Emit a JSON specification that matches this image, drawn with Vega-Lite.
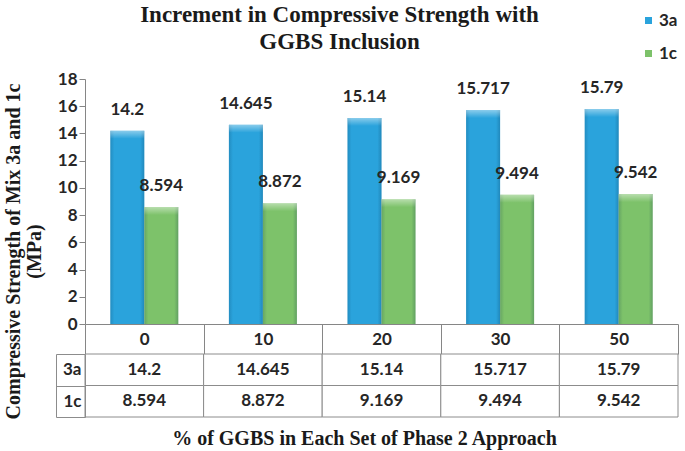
{
  "$schema": "https://vega.github.io/schema/vega-lite/v6.json",
  "background": "white",
  "padding": {"left": 2, "top": 4, "right": 5, "bottom": 2},
  "spacing": 30,
  "bounds": "flush",
  "config": {
    "view": {"stroke": null},
    "font": "Lato",
    "axis": {
      "labelFont": "Lato", "labelFontWeight": "bold", "labelFontSize": 17, "labelColor": "#262626",
      "domainColor": "#868686", "tickColor": "#868686",
      "titleFont": "Liberation Serif", "titleFontWeight": "bold", "titleFontSize": 20, "titleColor": "#1a1a1a"
    }
  },
  "data": {"values": [
    {"ggbs": "0", "series": "3a", "value": 14.2},
    {"ggbs": "0", "series": "1c", "value": 8.594},
    {"ggbs": "10", "series": "3a", "value": 14.645},
    {"ggbs": "10", "series": "1c", "value": 8.872},
    {"ggbs": "20", "series": "3a", "value": 15.14},
    {"ggbs": "20", "series": "1c", "value": 9.169},
    {"ggbs": "30", "series": "3a", "value": 15.717},
    {"ggbs": "30", "series": "1c", "value": 9.494},
    {"ggbs": "50", "series": "3a", "value": 15.79},
    {"ggbs": "50", "series": "1c", "value": 9.542}
  ]},
  "vconcat": [
    {
      "width": 593,
      "height": 245,
      "title": {
        "text": ["Increment in Compressive Strength with", "GGBS Inclusion"],
        "font": "Liberation Serif", "fontSize": 23, "fontWeight": "bold", "color": "#1a1a1a",
        "anchor": "middle", "frame": "group", "dx": -42, "offset": 16, "lineHeight": 27
      },
      "encoding": {
        "x": {
          "field": "ggbs", "type": "ordinal", "sort": ["0", "10", "20", "30", "50"],
          "scale": {"paddingInner": 0, "paddingOuter": 0},
          "axis": {"title": null, "labelAngle": 0, "tickBand": "extent", "tickSize": 30, "labelPadding": -23}
        },
        "xOffset": {
          "field": "series", "type": "nominal", "sort": ["3a", "1c"],
          "scale": {"paddingInner": 0, "paddingOuter": 0.744}
        },
        "y": {
          "field": "value", "type": "quantitative", "stack": null,
          "scale": {"domain": [0, 18], "nice": false},
          "axis": {
            "values": [0, 2, 4, 6, 8, 10, 12, 14, 16, 18], "grid": false, "tickSize": 6, "labelPadding": 2,
            "title": ["Compressive Strength of Mix 3a and 1c", "(MPa)"],
            "titleAngle": -90, "titleX": -82, "titleY": 172, "titleBaseline": "top", "titleAlign": "center", "titleLineHeight": 21
          }
        }
      },
      "layer": [
        {
          "mark": {"type": "bar"},
          "encoding": {
            "color": {
              "field": "series", "type": "nominal", "sort": ["3a", "1c"],
              "scale": {"domain": ["3a", "1c"], "range": ["#2aa3dc", "#7dc26a"]},
              "legend": {
                "orient": "none", "legendX": 555, "legendY": -67, "title": null, "padding": 0,
                "symbolType": "square", "symbolSize": 49, "symbolStrokeWidth": 0,
                "labelFont": "Lato", "labelFontWeight": "bold", "labelFontSize": 17, "labelColor": "#262626",
                "labelOffset": 2, "rowPadding": 15
              }
            }
          }
        },
        {
          "mark": {"type": "bar", "fill": {"gradient": "linear", "x1": 0, "y1": 0, "x2": 1, "y2": 0, "stops": [
            {"offset": 0, "color": "rgba(0,40,70,0.18)"}, {"offset": 0.12, "color": "rgba(0,40,70,0.0)"},
            {"offset": 0.88, "color": "rgba(0,40,70,0.0)"}, {"offset": 1, "color": "rgba(0,40,70,0.22)"}]}},
          "encoding": {}
        },
        {
          "mark": {"type": "bar", "y2Offset": 8, "fill": {"gradient": "linear", "x1": 0, "y1": 0, "x2": 0, "y2": 1, "stops": [
            {"offset": 0, "color": "rgba(255,255,255,0.45)"}, {"offset": 1, "color": "rgba(255,255,255,0.0)"}]}},
          "encoding": {"y2": {"field": "value"}}
        },
        {
          "mark": {"type": "text", "font": "Lato", "fontWeight": "bold", "fontSize": 17, "color": "#262626", "baseline": "middle", "dy": -21},
          "encoding": {"text": {"field": "value", "type": "nominal"}}
        }
      ]
    },
    {
      "width": 593,
      "height": 63,
      "encoding": {
        "x": {
          "field": "ggbs", "type": "ordinal", "sort": ["0", "10", "20", "30", "50"],
          "scale": {"paddingInner": 0, "paddingOuter": 0},
          "axis": {
            "labels": false, "ticks": false, "domain": false,
            "title": "%  of GGBS in Each Set of Phase 2 Approach",
            "titleX": 279, "titleY": 21, "titleBaseline": "middle", "titleAlign": "center"
          }
        }
      },
      "layer": [
        {
          "mark": {"type": "rect", "fill": "white", "stroke": "#8c8c8c", "strokeWidth": 1},
          "encoding": {
            "y": {
              "field": "series", "type": "nominal", "sort": ["3a", "1c"],
              "scale": {"paddingInner": 0, "paddingOuter": 0},
              "axis": {"title": null, "tickBand": "extent", "tickSize": 29, "tickColor": "#8c8c8c", "labelPadding": -25, "domain": true, "domainColor": "#8c8c8c"}
            }
          }
        },
        {
          "mark": {"type": "text", "font": "Lato", "fontWeight": "bold", "fontSize": 17, "color": "#262626"},
          "encoding": {
            "y": {
              "field": "series", "type": "nominal", "sort": ["3a", "1c"],
              "axis": {"title": null, "orient": "left", "labels": false, "ticks": false, "domain": true, "domainColor": "#8c8c8c", "offset": 29}
            },
            "text": {"field": "value", "type": "nominal"}
          }
        }
      ],
      "resolve": {"axis": {"y": "independent"}}
    }
  ]
}
